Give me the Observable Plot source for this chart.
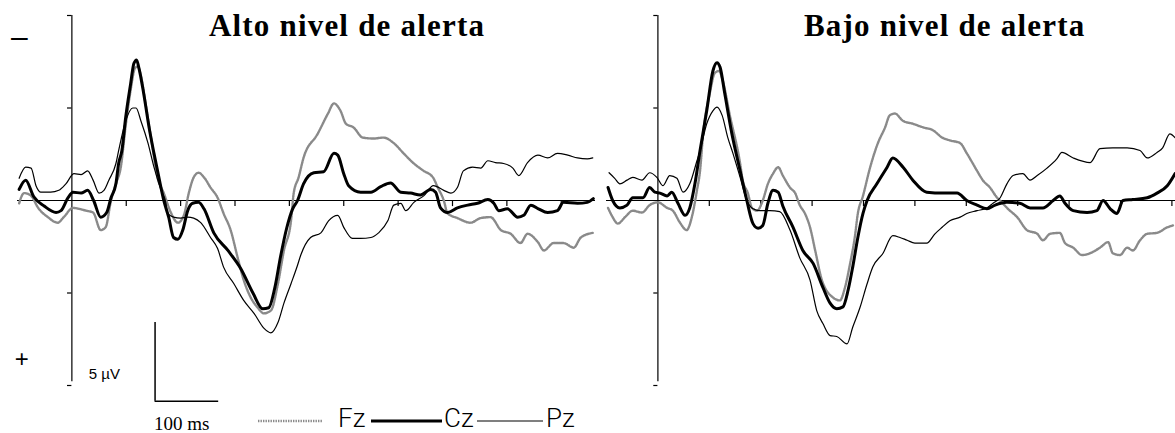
<!DOCTYPE html>
<html><head><meta charset="utf-8">
<script src="https://cdn.jsdelivr.net/npm/d3@7"></script>
<script src="https://cdn.jsdelivr.net/npm/@observablehq/plot@0.6"></script>
<style>
body{margin:0;background:#fff;}
#wrap{position:relative;width:1175px;height:433px;overflow:hidden;background:#fff;}
#left{position:absolute;left:0;top:0;}
#right{position:absolute;left:600px;top:0;}
#legend{position:absolute;left:0;top:0;}
</style>
</head><body>
<div id="wrap"><div id="left"></div><div id="right"></div><div id="legend"></div></div>
<script>
// time in ms, amplitude in µV (negative plotted up)
const titles = ["Alto nivel de alerta", "Bajo nivel de alerta"];
const channels = ["Fz", "Cz", "Pz"];
const xTicksLeft = [100,200,300,400,500,600,700,800,900];
const xTicksRight = [100,200,300,400,500,600,700,800,900,1000];
const yTicks = [-10,-5,5,10];
const scaleBar = {t0:153, t1:270, v0:6.6, v1:10.85, vLabel:"5 µV", tLabel:"100 ms"};

const altoCz = [[-97,-0.6],[-85,-1.1],[-70,-0.2],[-51,0.3],[-29,0.65],[-20,0.55],[-7,-0.15],[2,-0.45],[17,-0.4],[29,-0.55],[40,0],[53,0.9],[64,0.65],[72,-0.15],[81,-0.9],[86,-2.0],[92,-2.7],[99,-4.5],[108,-6.3],[114,-7.4],[119,-7.6],[123,-7.2],[132,-5.8],[142,-3.95],[151,-2.55],[160,-1.25],[169,0],[178,0.9],[187,2.0],[195,2.1],[204,1.6],[213,0.55],[222,0.15],[233,0.1],[243,0.45],[261,1.75],[287,2.7],[311,3.7],[333,5.0],[351,5.85],[362,5.8],[373,4.75],[384,3.0],[395,1.5],[406,0.45],[415,0],[426,-0.9],[445,-1.5],[463,-1.55],[482,-2.55],[489,-2.45],[500,-1.45],[509,-0.8],[531,-0.45],[550,-0.45],[568,-0.75],[586,-0.95],[605,-0.45],[623,-0.4],[641,-0.3],[660,-0.6],[669,-0.45],[678,0.4],[691,0.65],[709,0.4],[728,0.25],[746,0.15],[765,-0.05],[776,0.15],[785,0.55],[801,0.45],[820,0.9],[831,0.8],[844,0.25],[858,0.45],[875,0.65],[893,0.55],[904,0.1],[930,0.15],[948,0.1],[959,-0.1]];
const altoFz = [[-97,0.15],[-88,-0.4],[-75,-0.25],[-62,0.4],[-44,0.9],[-26,1.2],[-15,0.9],[2,0.4],[13,0.45],[26,0.55],[39,0.65],[53,1.6],[62,1.45],[72,0],[81,-0.9],[90,-1.8],[99,-4.05],[108,-5.95],[116,-7.15],[121,-7.25],[127,-6.75],[136,-5.15],[145,-3.5],[158,-1.2],[169,-0.4],[182,0.65],[195,1.2],[206,0.8],[215,-0.4],[224,-1.25],[233,-1.5],[243,-1.25],[255,-0.7],[268,-0.15],[279,0.7],[292,1.6],[305,3.1],[316,4.3],[329,5.25],[342,5.8],[353,6.1],[366,5.95],[379,4.5],[390,2.7],[403,1.1],[408,-0.4],[417,-1.25],[426,-2.3],[452,-3.6],[471,-4.7],[482,-5.25],[494,-4.85],[504,-4.15],[518,-3.95],[535,-3.4],[555,-3.35],[573,-3.4],[592,-3.1],[610,-2.55],[629,-2.0],[647,-1.6],[664,-1.25],[673,-0.7],[684,0],[691,0.7],[709,0.95],[733,1.2],[752,0.95],[770,0.9],[789,1.6],[807,1.8],[825,2.3],[838,1.8],[857,2.25],[868,2.7],[886,2.3],[904,2.3],[923,2.55],[936,2.0],[958,1.75]];
const altoPz = [[-97,-1.2],[-85,-1.8],[-75,-1.75],[-66,-0.8],[-57,-0.45],[-39,-0.45],[-24,-0.55],[-11,-0.9],[4,-1.45],[17,-1.4],[29,-1.6],[39,-1.1],[50,-0.4],[59,-0.55],[68,-1.1],[81,-2.0],[86,-2.7],[99,-4.3],[112,-5.0],[118,-5.0],[127,-4.3],[140,-3.1],[151,-1.8],[164,-0.55],[173,0.15],[176,0.7],[187,0.9],[200,0.95],[213,0.9],[224,0.95],[237,1.2],[255,2.0],[268,2.6],[279,3.6],[298,4.5],[316,5.4],[335,6.1],[353,6.9],[366,7.15],[379,6.6],[390,5.55],[403,4.5],[415,3.5],[421,2.95],[439,2.0],[458,1.75],[472,1.1],[489,0.8],[500,1.45],[516,2.05],[531,2.05],[550,2.0],[564,1.75],[581,1.1],[592,0.25],[605,0.15],[614,0.55],[629,0.1],[647,-0.25],[665,-0.8],[684,-0.55],[697,-0.4],[709,-0.7],[720,-1.6],[737,-1.8],[752,-1.75],[765,-2.15],[779,-2.05],[794,-2.0],[811,-1.75],[822,-1.35],[838,-2.05],[857,-2.45],[875,-2.3],[893,-2.55],[912,-2.45],[930,-2.3],[948,-2.25],[958,-2.3]];

const bajoCz = [[-97,-0.7],[-88,0],[-74,0.4],[-60,0.25],[-49,-0.15],[-29,-0.15],[-16,-0.7],[-6,-0.45],[4,-0.4],[18,-0.25],[27,-0.45],[39,0.15],[53,0.8],[62,0.4],[72,-0.9],[82,-2.7],[95,-4.85],[107,-7.0],[115,-7.45],[121,-7.2],[130,-5.8],[144,-3.6],[160,-1.6],[173,0],[185,1.25],[195,1.5],[204,1.35],[214,0.15],[224,-0.55],[234,-0.45],[243,0.3],[263,1.45],[282,2.7],[302,3.4],[321,4.7],[335,5.55],[348,5.85],[360,5.75],[370,4.85],[379,3.6],[389,2.0],[399,0.7],[407,0],[426,-0.9],[446,-1.8],[457,-2.3],[477,-1.8],[496,-1.1],[523,-0.45],[555,-0.4],[582,-0.4],[601,0],[621,0.25],[640,0.45],[656,0.25],[679,0.1],[704,0.15],[724,0.4],[749,0.4],[769,0],[782,-0.25],[792,0.15],[808,0.55],[835,0.65],[854,0.55],[866,0],[880,0.45],[893,0.7],[905,0],[924,-0.05],[952,-0.15],[971,-0.4],[991,-0.8],[1006,-1.45]];
const bajoFz = [[-97,0.4],[-88,0.9],[-78,1.25],[-64,0.9],[-49,0.55],[-31,0.65],[-16,0.25],[0,0.1],[18,0.4],[29,0.55],[43,1.2],[56,1.6],[66,0.9],[76,-0.55],[82,-1.6],[88,-3.6],[101,-5.8],[111,-6.9],[119,-7.0],[126,-6.5],[140,-4.6],[160,-2.0],[165,-1.1],[175,-0.4],[183,0.4],[193,0.55],[204,0],[214,-0.9],[224,-1.45],[234,-1.8],[243,-1.35],[257,-0.7],[267,-0.4],[276,0.25],[286,0.7],[296,1.45],[306,2.7],[319,4.3],[341,5.25],[354,5.4],[364,4.7],[374,3.4],[383,2.0],[389,0.7],[399,-0.25],[413,-1.8],[428,-3.1],[442,-3.95],[451,-4.6],[461,-4.7],[477,-4.3],[496,-4.15],[516,-3.95],[535,-3.8],[553,-3.4],[568,-3.25],[588,-3.1],[601,-2.55],[621,-1.6],[632,-1.1],[646,-0.7],[660,-0.15],[669,0.1],[681,0.45],[699,0.9],[718,1.6],[738,1.8],[749,2.15],[763,1.8],[782,1.75],[792,2.3],[808,2.55],[825,2.95],[841,2.85],[860,2.55],[876,2.25],[885,2.85],[899,2.95],[913,2.55],[924,2.7],[938,2.15],[952,1.8],[971,1.75],[991,1.45],[1002,1.35]];
const bajoPz = [[-95,-1.5],[-84,-1.2],[-74,-0.9],[-60,-1.1],[-49,-1.25],[-31,-1.1],[-16,-1.5],[-2,-1.25],[10,-0.8],[23,-1.35],[37,-1.2],[49,-0.45],[62,-0.9],[76,-2.15],[82,-2.7],[95,-4.15],[107,-4.85],[115,-5.05],[125,-4.6],[136,-3.4],[146,-2.55],[160,-1.25],[173,0],[185,0.45],[198,0.55],[218,0.55],[237,0.6],[257,1.6],[276,3.1],[296,4.3],[309,5.95],[321,6.65],[335,7.3],[348,7.35],[368,7.75],[379,6.85],[393,5.8],[407,4.5],[418,3.6],[438,2.85],[457,1.9],[471,2.0],[485,2.15],[500,2.3],[523,2.3],[539,1.8],[553,1.45],[568,1.1],[588,0.9],[601,0.7],[621,0.55],[640,0.4],[652,0.15],[666,-0.15],[679,-0.9],[691,-1.35],[710,-1.45],[724,-1.1],[738,-1.35],[757,-1.75],[776,-2.25],[786,-2.6],[808,-2.3],[841,-2.05],[860,-2.8],[885,-2.85],[913,-2.85],[938,-2.7],[952,-2.3],[971,-2.6],[982,-2.85],[996,-3.6],[1006,-3.4]];

const styles = {
  Fz: {stroke:"#8a8a8a", strokeWidth:2.4, strokeDasharray:"1.4 1.1"},
  Cz: {stroke:"#000", strokeWidth:3},
  Pz: {stroke:"#000", strokeWidth:1.2}
};

function panel({width, marginLeft, marginRight, domain, fz, cz, pz, title, titleT, xTicks, extras}) {
  const xy = {x: d => d[0], y: d => d[1], curve: "monotone-x"};
  return Plot.plot({
    width, height: 433, marginLeft, marginRight, marginTop: 15, marginBottom: 48,
    x: {domain, axis: null},
    y: {domain: [-10, 10], reverse: true, axis: null},
    style: {background: "transparent", overflow: "visible"},
    marks: [
      Plot.ruleY([0], {x1: domain[0], x2: domain[1], stroke: "#000", strokeWidth: 1}),
      Plot.ruleX([0], {y1: -10, y2: 9.8, stroke: "#000", strokeWidth: 1.2}),
      Plot.ruleY(yTicks, {x1: -8, x2: 0, stroke: "#000", strokeWidth: 1.2}),
      Plot.ruleX(xTicks, {y1: 0, y2: 0.33, stroke: "#000", strokeWidth: 1.2}),
      Plot.line(fz, {...xy, ...styles.Fz}),
      Plot.line(pz, {...xy, ...styles.Pz}),
      Plot.line(cz, {...xy, ...styles.Cz}),
      Plot.text([title], {x: titleT, y: -8.9, text: d => d, fontSize: 31, fontFamily: "Liberation Serif, serif", fontWeight: "bold", lineAnchor: "bottom", fill: "#000"}),
      ...(extras || [])
    ]
  });
}

const leftExtras = [
  Plot.text(["–"], {x: -96.5, y: -8.8, text: d => d, fontSize: 30, fontFamily: "Liberation Sans, sans-serif", fill: "#000"}),
  Plot.text(["+"], {x: -92, y: 8.6, text: d => d, fontSize: 24, fontFamily: "Liberation Sans, sans-serif", fill: "#000"}),
  Plot.text([scaleBar.vLabel], {x: 31, y: 9.65, text: d => d, fontSize: 15, fontFamily: "Liberation Sans, sans-serif", textAnchor: "start", lineAnchor: "bottom", fill: "#000"}),
  Plot.ruleX([scaleBar.t0], {y1: scaleBar.v0, y2: scaleBar.v1, stroke: "#000", strokeWidth: 1.5}),
  Plot.ruleY([scaleBar.v1], {x1: scaleBar.t0, x2: scaleBar.t1, stroke: "#000", strokeWidth: 1.5}),
  Plot.text([scaleBar.tLabel], {x: scaleBar.t0 - 2, y: 12.4, text: d => d, fontSize: 19, fontFamily: "Liberation Serif, serif", textAnchor: "start", lineAnchor: "bottom", fill: "#000"})
];

const left = panel({width: 600, marginLeft: 17, marginRight: 5, domain: [-100, 963], fz: altoFz, cz: altoCz, pz: altoPz, title: titles[0], titleT: 506, xTicks: xTicksLeft, extras: leftExtras});
const right = panel({width: 575, marginLeft: 6, marginRight: 0, domain: [-100, 1007], fz: bajoFz, cz: bajoCz, pz: bajoPz, title: titles[1], titleT: 558, xTicks: xTicksRight});
document.getElementById("left").appendChild(left);
document.getElementById("right").appendChild(right);
d3.selectAll("svg text").filter(function() { return titles.includes(this.textContent); }).attr("letter-spacing", "1.2px");

// legend
const legendItems = [
  {ch: "Fz", x1: 258, x2: 323, tx: 338},
  {ch: "Cz", x1: 371, x2: 442, tx: 444},
  {ch: "Pz", x1: 477, x2: 543, tx: 546}
];
const lg = d3.select("#legend").append("svg").attr("width", 1175).attr("height", 433);
for (const it of legendItems) {
  const s = styles[it.ch];
  lg.append("line").attr("x1", it.x1).attr("x2", it.x2).attr("y1", 421).attr("y2", 421)
    .attr("stroke", s.stroke).attr("stroke-width", s.strokeWidth).attr("stroke-dasharray", s.strokeDasharray || null);
  lg.append("text").attr("x", it.tx).attr("y", 427).text(it.ch)
    .attr("font-family", "Roboto, Liberation Sans, sans-serif").attr("font-weight", 300).attr("font-size", 26).attr("fill", "#000");
}
</script>
</body></html>
